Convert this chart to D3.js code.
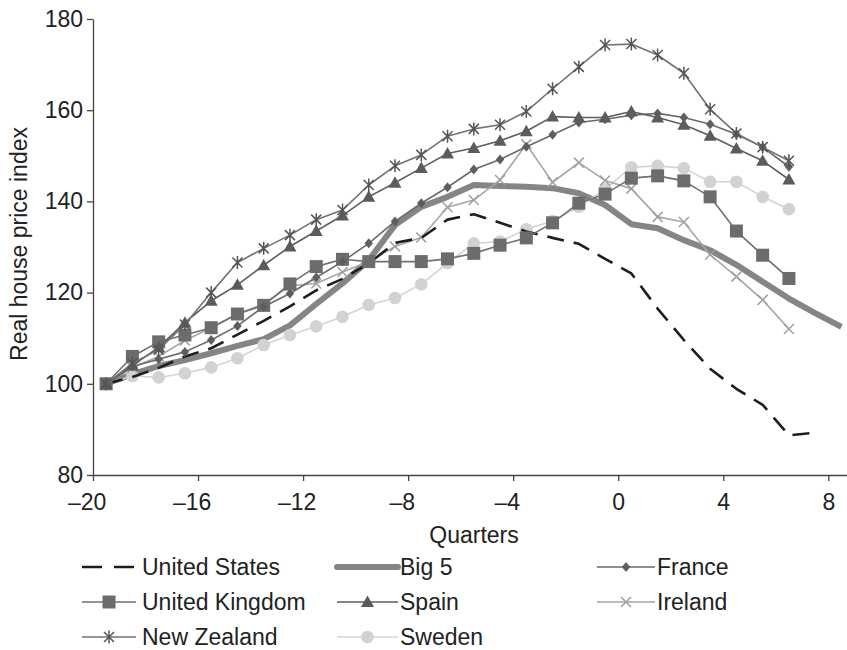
<!DOCTYPE html>
<html>
<head>
<meta charset="utf-8">
<script src="https://cdn.jsdelivr.net/npm/d3@7"></script>
<style>
  html, body { margin: 0; padding: 0; background: #fff; }
  svg { display: block; }
  text { font-family: "Liberation Sans", Arial, sans-serif; fill: #222; }
</style>
</head>
<body>
<svg id="chart" width="847" height="650"></svg>
<script>
// Quarters relative to the peak; each series uses the first N entries.
const quarters = [-19.5, -18.5, -17.5, -16.5, -15.5, -14.5, -13.5, -12.5, -11.5, -10.5,
                  -9.5, -8.5, -7.5, -6.5, -5.5, -4.5, -3.5, -2.5, -1.5, -0.5,
                  0.5, 1.5, 2.5, 3.5, 4.5, 5.5, 6.5, 7.5, 8.5];

const xTicks = [-20, -16, -12, -8, -4, 0, 4, 8];
const yTicks = [80, 100, 120, 140, 160, 180];

const unitedStates = [100, 101.5, 103.5, 106, 107.8, 110.8, 113.8, 117, 120.5, 123,
                      126.4, 130.9, 132, 136, 137.2, 135.3, 133.4, 132, 130.7, 127.4,
                      124.2, 116.5, 109.6, 103.3, 98.9, 95.4, 88.7, 89.3];
const big5 = [100, 102.1, 103.9, 105.2, 106.7, 108.3, 109.8, 112.8, 117.5, 122,
              127.1, 134.8, 138.8, 141, 143.6, 143.4, 143.2, 142.9, 141.8, 139.2,
              135, 134.1, 131.5, 129.3, 126.1, 122.4, 118.7, 115.5, 112.5];
const france = [100, 103.8, 105.4, 107, 109.6, 112.7, 116.9, 119.8, 123.3, 126.8,
                130.8, 135.6, 139.6, 143.1, 147, 149.2, 152, 154.6, 157.3, 158,
                158.9, 159.3, 158.4, 156.9, 154.7, 151.9, 147.6];
const unitedKingdom = [100, 106, 109.2, 110.7, 112.3, 115.3, 117.2, 121.9, 125.7, 127.3,
                       126.8, 126.8, 126.8, 127.4, 128.6, 130.4, 132, 135.3, 139.6, 141.6,
                       145.1, 145.6, 144.5, 141, 133.5, 128.2, 123.1];
const spain = [100, 104, 108, 113.4, 118.2, 121.7, 126, 130.1, 133.5, 136.9,
               141, 144.1, 147.3, 150.5, 151.7, 153.3, 155.4, 158.6, 158.4, 158.4,
               159.7, 158.4, 156.8, 154.4, 151.6, 148.9, 144.8];
const ireland = [100, 103.5, 106, 109.5, 112.3, 115.3, 117.5, 121.5, 122, 124.5,
                 126.8, 130.1, 132.1, 138.7, 140.3, 144.7, 152.5, 144.2, 148.5, 144.6,
                 142.8, 136.6, 135.5, 128.3, 123.5, 118.4, 112];
const newZealand = [100, 104.5, 107.5, 113, 120, 126.6, 129.7, 132.6, 136, 138.1,
                    143.6, 147.8, 150.2, 154.3, 155.9, 156.8, 159.7, 164.7, 169.5, 174.3,
                    174.5, 172.1, 168.1, 160.2, 154.9, 151.9, 148.9];
const sweden = [100, 101.7, 101.4, 102.3, 103.6, 105.6, 108.5, 110.7, 112.6, 114.7,
                117.3, 118.8, 121.8, 126.5, 130.8, 131.2, 133.9, 135.7, 138.8, 142.7,
                147.5, 147.8, 147.3, 144.3, 144.3, 141, 138.3];

// Series styling (drawn in this order; later ones sit on top)
const series = [
  { name: "Big 5",          values: big5,          stroke: "#858585", width: 6,   marker: null },
  { name: "Sweden",         values: sweden,        stroke: "#d4d4d4", width: 1.6, marker: "circle",   mfill: "#d2d2d2" },
  { name: "Ireland",        values: ireland,       stroke: "#a6a6a6", width: 1.6, marker: "x",        mstroke: "#a0a0a0" },
  { name: "United States",  values: unitedStates,  stroke: "#1e1e1e", width: 2.6, marker: null, dash: "17,10" },
  { name: "United Kingdom", values: unitedKingdom, stroke: "#707070", width: 1.6, marker: "square",   mfill: "#6c6c6c" },
  { name: "France",         values: france,        stroke: "#6a6a6a", width: 1.6, marker: "diamond",  mfill: "#5e5e5e" },
  { name: "Spain",          values: spain,         stroke: "#5e5e5e", width: 1.6, marker: "triangle", mfill: "#5c5c5c" },
  { name: "New Zealand",    values: newZealand,    stroke: "#727272", width: 1.6, marker: "asterisk", mstroke: "#555" }
];

const byName = Object.fromEntries(series.map(s => [s.name, s]));
const FONT = 23;

const svg = d3.select("#chart");
const x = d3.scaleLinear().domain([-20, 8.75]).range([93, 848]);
const y = d3.scaleLinear().domain([80, 180]).range([475, 19]);

function markerPath(type) {
  switch (type) {
    case "square":   return "M-6.5,-6.5h13v13h-13Z";
    case "triangle": return "M0,-6.5L6.5,5L-6.5,5Z";
    case "diamond":  return "M0,-5L4.2,0L0,5L-4.2,0Z";
    case "circle":   return d3.symbol(d3.symbolCircle, Math.PI * 6.3 * 6.3)();
    case "x":        return "M-5,-5L5,5M-5,5L5,-5";
    case "asterisk": return "M-5,-5L5,5M-5,5L5,-5M0,-6.5L0,6.5";
  }
  return "";
}

function drawMarker(g, s, cx, cy) {
  const p = g.append("path")
    .attr("d", markerPath(s.marker))
    .attr("transform", `translate(${cx},${cy})`);
  if (s.marker === "x" || s.marker === "asterisk") {
    p.attr("fill", "none").attr("stroke", s.mstroke).attr("stroke-width", 1.5);
  } else {
    p.attr("fill", s.mfill).attr("stroke", "none");
  }
}

// Axes
const yAxis = svg.append("g")
  .attr("transform", `translate(${x(-20)},0)`)
  .call(d3.axisLeft(y).tickValues(yTicks).tickSize(6).tickSizeOuter(0).tickPadding(4));
const xAxis = svg.append("g")
  .attr("transform", `translate(0,${y(80)})`)
  .call(d3.axisBottom(x).tickValues(xTicks).tickSize(6).tickSizeOuter(0).tickPadding(13)
        .tickFormat(d => d < 0 ? "\u2013" + Math.abs(d) : String(d)));
[xAxis, yAxis].forEach(a => {
  a.selectAll("path.domain").attr("stroke", "#444").attr("stroke-width", 1.3);
  a.selectAll(".tick line").attr("stroke", "#444").attr("stroke-width", 1.3);
  a.selectAll(".tick text").attr("font-size", FONT).attr("fill", "#222")
    .attr("font-family", "Liberation Sans, Arial, sans-serif");
});
// Negative labels keep their digits centred on the tick, the sign hangs left
xAxis.selectAll(".tick text").attr("dx", d => d < 0 ? -6.4 : 0);

// Axis titles
svg.append("text")
  .attr("x", 474).attr("y", 543)
  .attr("text-anchor", "middle").attr("font-size", FONT)
  .text("Quarters");
svg.append("text")
  .attr("transform", "translate(27,244) rotate(-90)")
  .attr("text-anchor", "middle").attr("font-size", FONT)
  .text("Real house price index");

// Lines and markers
const plot = svg.append("g");
series.forEach(s => {
  const line = d3.line().x((d, i) => x(quarters[i])).y(d => y(d));
  plot.append("path")
    .datum(s.values)
    .attr("d", line)
    .attr("fill", "none")
    .attr("stroke", s.stroke)
    .attr("stroke-width", s.width)
    .attr("stroke-linejoin", "round")
    .attr("stroke-dasharray", s.dash || null);
  if (s.marker) {
    const mg = plot.append("g");
    s.values.forEach((v, i) => drawMarker(mg, s, x(quarters[i]), y(v)));
  }
});

// Legend: three columns, three rows
const legendOrder = ["United States", "Big 5", "France",
                     "United Kingdom", "Spain", "Ireland",
                     "New Zealand", "Sweden"];
const colX = [[82, 136, 142], [337, 398, 400], [597, 655, 657]];
const rowY = [567, 602, 637];
const legend = svg.append("g");
legendOrder.forEach((name, k) => {
  const s = byName[name];
  const [x0, x1, tx] = colX[k % 3];
  const cy = rowY[Math.floor(k / 3)];
  legend.append("line")
    .attr("x1", x0).attr("x2", x1).attr("y1", cy).attr("y2", cy)
    .attr("stroke", s.stroke)
    .attr("stroke-width", s.width)
    .attr("stroke-linecap", name === "Big 5" ? "round" : "butt")
    .attr("stroke-dasharray", s.dash ? "20,12" : null);
  if (s.marker) drawMarker(legend, s, (x0 + x1) / 2, cy);
  legend.append("text")
    .attr("x", tx).attr("y", cy + 8)
    .attr("font-size", FONT)
    .text(name);
});
</script>
</body>
</html>
